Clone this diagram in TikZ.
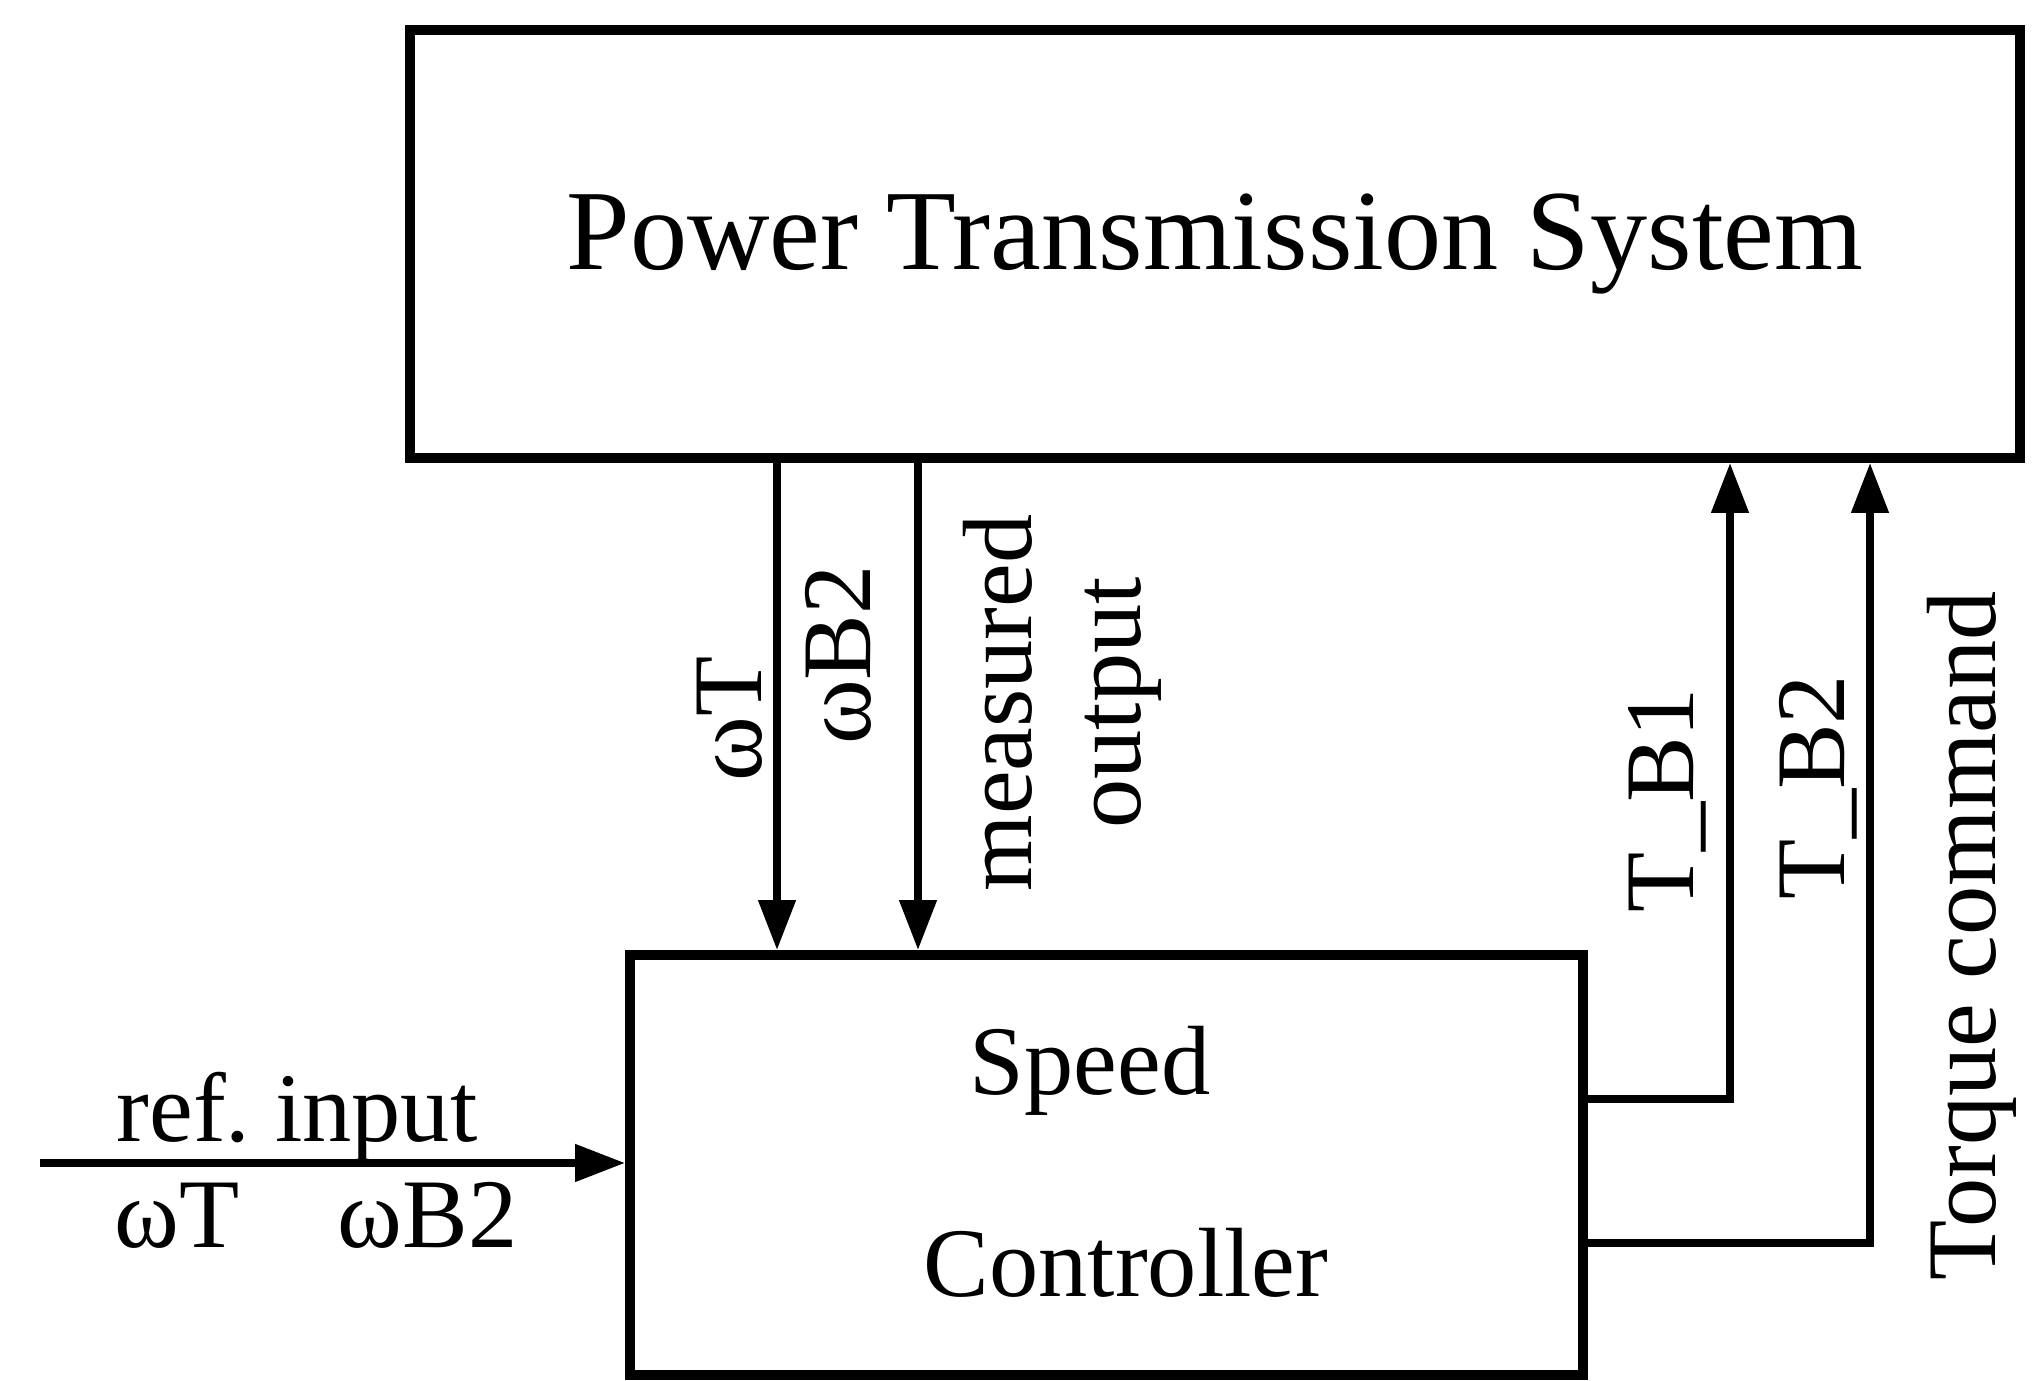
\documentclass[tikz,border=0pt]{standalone}
\usepackage{fontspec}
\setmainfont{Liberation Serif}
\usepackage{tikz}
\usetikzlibrary{arrows.meta,positioning,calc}
\tikzset{
  blk/.style={draw, line width=2.8pt, inner sep=0pt},
  sig/.style={line width=2.2pt, -{Triangle[length=5mm,width=3.6mm]}},
  lbl/.style={inner sep=0pt, font=\fontsize{28}{31}\selectfont},
}

\begin{document}
\begin{tikzpicture}
\useasboundingbox (0,0) rectangle (20.41,13.81);
% blocks
\node[blk, minimum width=16.1cm, minimum height=4.28cm, font=\fontsize{32.5}{36}\selectfont] (pts) at (12.15,11.37) {Power Transmission System};
\node[blk, minimum width=9.53cm, minimum height=4.2cm] (ctrl) at (11.065,2.16) {};
\node[lbl] (speed) at (10.90,3.10) {Speed};
\node[lbl] (ctrlr) at (11.26,1.18) {Controller};
% measured signals
\coordinate (xT) at (7.77,0);
\coordinate (xB) at (9.18,0);
\draw[sig] (pts.south -| xT) -- (ctrl.north -| xT);
\draw[sig] (pts.south -| xB) -- (ctrl.north -| xB);
\node[lbl, rotate=90] (lwT) at (7.30,6.62) {ωT};
\node[lbl, rotate=90] (lwB) at (8.38,7.26) {ωB2};
\node[lbl, rotate=90, align=center] (lmeas) at (10.62,6.78) {measured\\output};
% torque commands
\coordinate (tb1) at (17.30,2.82);
\coordinate (tb2) at (18.70,1.38);
\draw[sig] (ctrl.east |- tb1) -- (tb1) -- (pts.south -| tb1);
\draw[sig] (ctrl.east |- tb2) -- (tb2) -- (pts.south -| tb2);
\node[lbl, rotate=90] (ltb1) at (16.67,5.81) {T\_B1};
\node[lbl, rotate=90] (ltb2) at (18.18,5.94) {T\_B2};
\node[lbl, rotate=90] (ltq) at (19.72,4.45) {Torque command};
% reference input
\coordinate (refin) at (0.40,2.18);
\draw[sig] (refin) -- (ctrl.west |- refin);
\node[lbl, anchor=base] (lref) at (2.97,2.39) {ref.\ input};
\node[lbl, anchor=base] (lrefw) at (3.16,1.33) {ωT\quad ωB2};
\end{tikzpicture}
\end{document}
